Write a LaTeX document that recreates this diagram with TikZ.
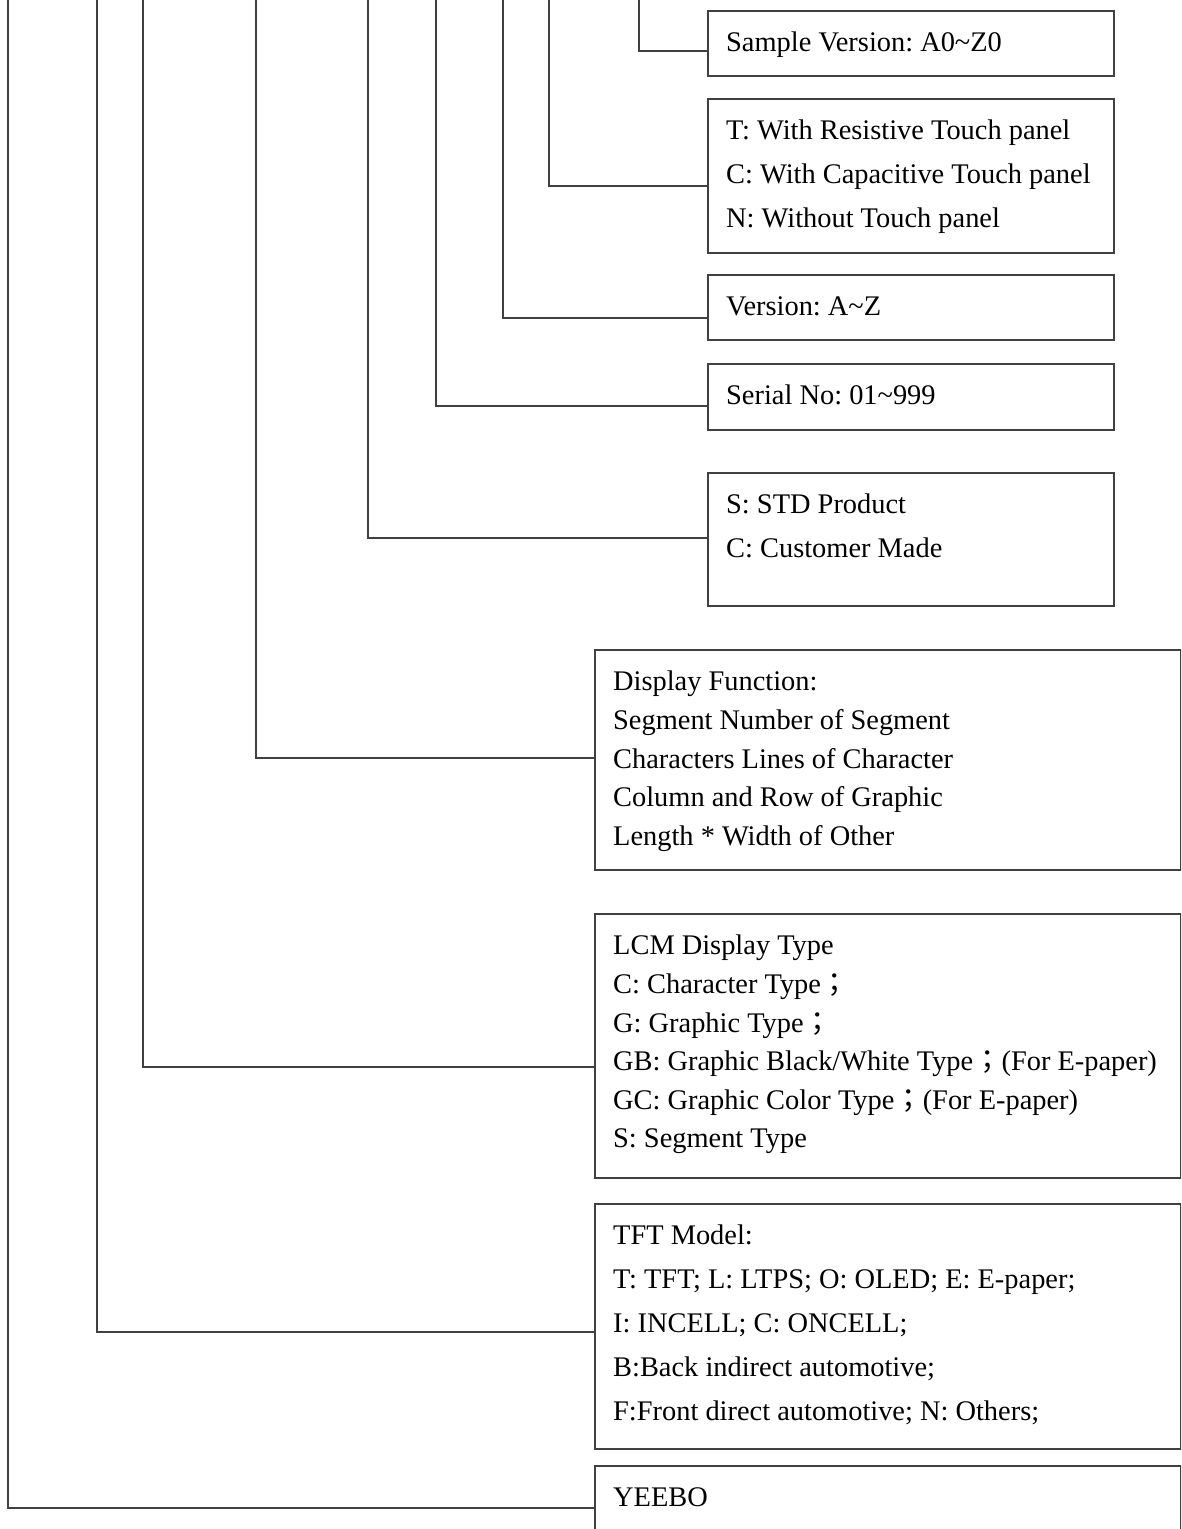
\documentclass[tikz,border=0pt]{standalone}
\usepackage{fontspec}
\setmainfont{Liberation Serif}
\newfontfamily\cjk{Noto Sans CJK TC}
\usetikzlibrary{positioning}
\newcommand{\fwsemi}{{\cjk ；}}
\frenchspacing

\begin{document}
\begin{tikzpicture}[x=1pt,y=-1pt,
  box/.style={draw=black!75, line width=2pt, rectangle, anchor=north west, inner sep=0pt},
  txt/.style={align=left, inner sep=0pt, font=\fontsize{28.4}{44}\selectfont},
  tight/.style={font=\fontsize{28.4}{38.6}\selectfont},
  link/.style={draw=black!75, line width=2pt}]
\useasboundingbox (0,0) rectangle (1181,1529);
\clip (0,0) rectangle (1181,1529);
% boxes
\node[box, minimum width=406pt, minimum height=65pt] (sample) at (707,10) {};
\node[box, minimum width=406pt, minimum height=154pt] (touch) at (707,98) {};
\node[box, minimum width=406pt, minimum height=65pt] (ver) at (707,274) {};
\node[box, minimum width=406pt, minimum height=66pt] (serial) at (707,363) {};
\node[box, minimum width=406pt, minimum height=133pt] (sc) at (707,472) {};
\node[box, minimum width=585.5pt, minimum height=220pt] (disp) at (594,649) {};
\node[box, minimum width=585.5pt, minimum height=264pt] (lcm) at (594,913) {};
\node[box, minimum width=585.5pt, minimum height=245pt] (tft) at (594,1203) {};
\node[box, minimum width=585.5pt, minimum height=120pt] (yeebo) at (594,1465) {};
% texts
\node[txt, below right=22pt and 19pt of sample.north west] (sample-t) {Sample Version: A0\textasciitilde Z0};
\node[txt, below right=22pt and 19pt of touch.north west] (touch-t) {T: With Resistive Touch panel\\C: With Capacitive Touch panel\\N: Without Touch panel};
\node[txt, below right=22pt and 19pt of ver.north west] (ver-t) {Version: A\textasciitilde Z};
\node[txt, below right=22pt and 19pt of serial.north west] (serial-t) {Serial No: 01\textasciitilde 999};
\node[txt, below right=22pt and 19pt of sc.north west] (sc-t) {S: STD Product\\C: Customer Made};
\node[txt, tight, below right=22pt and 19pt of disp.north west] (disp-t) {Display Function:\\Segment Number of Segment\\Characters Lines of Character\\Column and Row of Graphic\\Length * Width of Other};
\node[txt, tight, below right=22pt and 19pt of lcm.north west] (lcm-t) {LCM Display Type\\C: Character Type\fwsemi\\G: Graphic Type\fwsemi\\GB: Graphic Black/White Type\fwsemi(For E-paper)\\GC: Graphic Color Type\fwsemi(For E-paper)\\S: Segment Type};
\node[txt, below right=22pt and 19pt of tft.north west] (tft-t) {TFT Model:\\T: TFT; L: LTPS; O: OLED; E: E-paper;\\I: INCELL; C: ONCELL;\\B:Back indirect automotive;\\F:Front direct automotive; N: Others;};
\node[txt, below right=22pt and 19pt of yeebo.north west] (yeebo-t) {YEEBO};
% connectors from the top edge
\coordinate (v-sample) at (639,-5);
\coordinate (v-touch) at (549,-5);
\coordinate (v-ver) at (503,-5);
\coordinate (v-serial) at (436,-5);
\coordinate (v-sc) at (368,-5);
\coordinate (v-disp) at (256,-5);
\coordinate (v-lcm) at (143,-5);
\coordinate (v-tft) at (97,-5);
\coordinate (v-yeebo) at (8,-5);
\draw[link] (v-sample) |- (sample.west |- 0,51);
\draw[link] (v-touch) |- (touch.west |- 0,185.5);
\draw[link] (v-ver) |- (ver.west |- 0,317.7);
\draw[link] (v-serial) |- (serial.west |- 0,405.7);
\draw[link] (v-sc) |- (sc.west |- 0,538);
\draw[link] (v-disp) |- (disp.west |- 0,757.5);
\draw[link] (v-lcm) |- (lcm.west |- 0,1067);
\draw[link] (v-tft) |- (tft.west |- 0,1331.5);
\draw[link] (v-yeebo) |- (yeebo.west |- 0,1508);
\end{tikzpicture}
\end{document}
